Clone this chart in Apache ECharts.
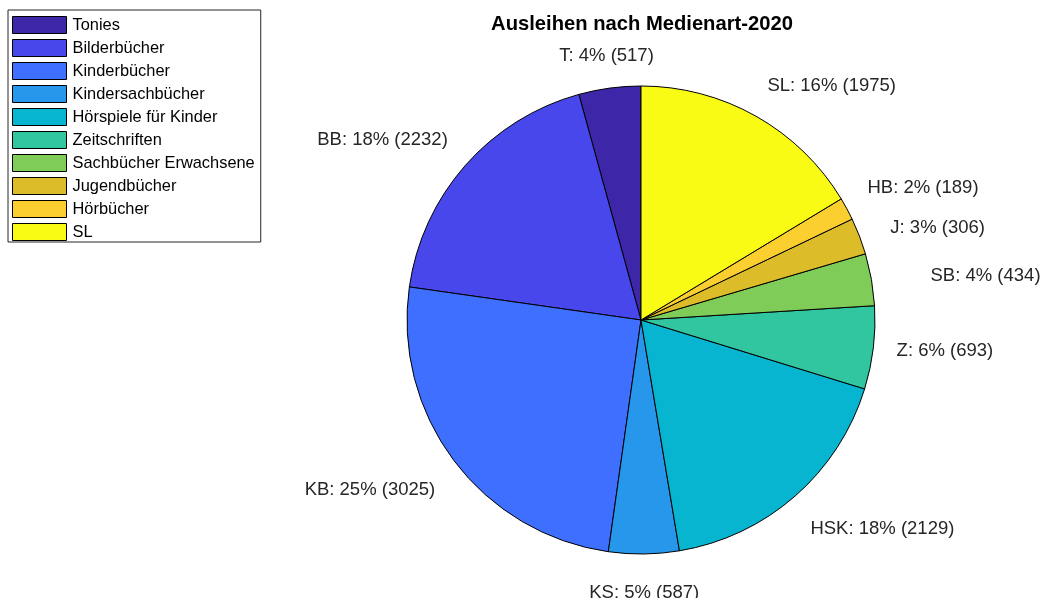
<!DOCTYPE html>
<html>
<head>
<meta charset="utf-8">
<script src="https://cdn.jsdelivr.net/npm/echarts@6/dist/echarts.min.js"></script>
<style>
html,body{margin:0;padding:0;background:#fff;}
#chart{width:1042px;height:598px;}
</style>
</head>
<body>
<div id="chart"></div>
<script>
const categories = ['Tonies','Bilderbücher','Kinderbücher','Kindersachbücher','Hörspiele für Kinder','Zeitschriften','Sachbücher Erwachsene','Jugendbücher','Hörbücher','SL'];
const shortNames = ['T','BB','KB','KS','HSK','Z','SB','J','HB','SL'];
const values = [517,2232,3025,587,2129,693,434,306,189,1975];
const colors = ['#3e26a8','#4747eb','#3e6fff','#2797eb','#08b5d0','#31c69f','#80cc59','#dcbd29','#fccf30','#f9fb14'];
const titleText = 'Ausleihen nach Medienart-2020';

// layout-only nudges (px) that mimic MATLAB's label overlap avoidance
const labelNudgeX = {SB: 36, J: 9};

const FONT = '"Liberation Sans", Arial, Helvetica, sans-serif';
const chart = echarts.init(document.getElementById('chart'), null, {renderer:'canvas'});

const option = {
  animation: false,
  backgroundColor: '#fff',
  color: colors,
  title: {
    text: titleText,
    left: 637,
    top: 9,
    textAlign: 'center',
    textStyle: {fontFamily: FONT, fontSize: 20.2, fontWeight: 'bold', color: '#000'}
  },
  legend: {
    orient: 'vertical',
    left: 8,
    top: 10,
    data: categories,
    icon: 'rect',
    itemWidth: 54,
    itemHeight: 17,
    itemGap: 5,
    padding: [6, 6, 1, 4],
    borderColor: '#262626',
    borderWidth: 1,
    selectedMode: false,
    itemStyle: {borderColor: '#000', borderWidth: 1},
    textStyle: {fontFamily: FONT, fontSize: 16.4, color: '#000', lineHeight: 17, height: 17, padding: [0,0,0,1]}
  },
  series: [{
    type: 'pie',
    center: [641, 320],
    radius: 234,
    startAngle: 90,
    clockwise: false,
    avoidLabelOverlap: false,
    silent: true,
    data: categories.map((c, i) => ({name: c, value: values[i]})),
    itemStyle: {borderColor: '#000', borderWidth: 1},
    label: {
      show: true,
      position: 'outside',
      formatter: p => shortNames[p.dataIndex] + ': ' + Math.round(p.percent) + '% (' + p.value + ')',
      fontFamily: FONT,
      fontSize: 18.5,
      color: '#262626'
    },
    labelLine: {show: true, length: 23.4, length2: 0, lineStyle: {opacity: 0, width: 0}},
    labelLayout: function (p) {
      const pts = p.labelLinePoints;
      if (!pts) return {};
      const a = pts[0], b = pts[1];
      const dx = b[0] - a[0], dy = b[1] - a[1];
      const len = Math.hypot(dx, dy) || 1;
      const c = dx / len, s = -dy / len;
      const align = Math.abs(c) < 0.2 ? 'center' : (c > 0 ? 'left' : 'right');
      const verticalAlign = Math.abs(s) < 0.4 ? 'middle' : (s > 0 ? 'bottom' : 'top');
      const nx = labelNudgeX[shortNames[p.dataIndex]] || 0;
      const ny = verticalAlign === 'top' ? 6 : 0;
      return {x: b[0] + nx, y: b[1] + ny, align: align, verticalAlign: verticalAlign};
    },
    emphasis: {disabled: true}
  }]
};
chart.setOption(option);
</script>
</body>
</html>
